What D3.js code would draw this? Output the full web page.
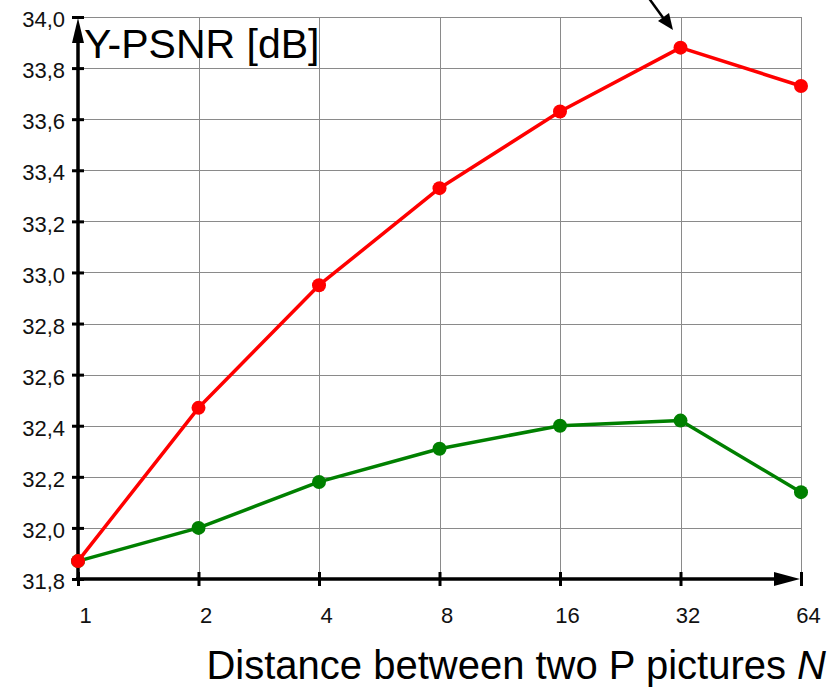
<!DOCTYPE html>
<html>
<head>
<meta charset="utf-8">
<script src="https://cdn.jsdelivr.net/npm/d3@7"></script>
<style>
  body { margin: 0; background: #fff; }
  svg { display: block; font-family: Arial, "Liberation Sans", sans-serif; }
</style>
</head>
<body>
<svg id="chart" width="836" height="687"></svg>
<script>
// values
const distances = [1, 2, 4, 8, 16, 32, 64];
const redSeries = [31.87, 32.47, 32.95, 33.33, 33.63, 33.88, 33.73];
const greenSeries = [31.87, 32.00, 32.18, 32.31, 32.40, 32.42, 32.14];
const yTicks = [31.8, 32.0, 32.2, 32.4, 32.6, 32.8, 33.0, 33.2, 33.4, 33.6, 33.8, 34.0];

const svg = d3.select("#chart");

const x = d3.scaleLog().base(2).domain([1, 64]).range([78, 801]);
const y = d3.scaleLinear().domain([31.8, 34.0]).range([579, 17]);

const fmt = d => d.toFixed(1).replace(".", ",");
const font = "Arial, 'Liberation Sans', sans-serif";

// grid
let grid = svg.append("g").attr("stroke", "#8a8a8a").attr("stroke-width", 1);
grid.selectAll("line.h")
  .data(yTicks.slice(1))
  .join("line")
    .attr("x1", x(1)).attr("x2", x(64))
    .attr("y1", d => Math.round(y(d)) + 0.5).attr("y2", d => Math.round(y(d)) + 0.5);
grid.selectAll("line.v")
  .data(distances.slice(1))
  .join("line")
    .attr("x1", d => Math.round(x(d)) + 0.5).attr("x2", d => Math.round(x(d)) + 0.5)
    .attr("y1", y(34.0)).attr("y2", y(31.8));

// y axis
let yAxis = svg.append("g")
  .attr("transform", `translate(${x(1)},0)`)
  .call(d3.axisLeft(y).tickValues(yTicks).tickFormat(fmt).tickSize(0).tickPadding(13));
yAxis.select(".domain").remove();
yAxis.selectAll("text").attr("font-size", 22).attr("fill", "#111").attr("dy", "0.44em")
  .attr("font-family", font);
yAxis.selectAll(".tick").append("line")
  .attr("x1", -6).attr("x2", 6).attr("stroke", "#000").attr("stroke-width", 3);

// x axis
let xAxis = svg.append("g")
  .attr("transform", `translate(0,${y(31.8)})`)
  .call(d3.axisBottom(x).tickValues(distances).tickFormat(d3.format("d")).tickSize(0).tickPadding(28));
xAxis.select(".domain").remove();
xAxis.selectAll("text").attr("font-size", 22).attr("fill", "#111").attr("dx", 7)
  .attr("font-family", font);
xAxis.selectAll(".tick").append("line")
  .attr("y1", -7).attr("y2", 7).attr("stroke", "#000").attr("stroke-width", 3);

// axis lines with arrows
svg.append("line")
  .attr("x1", x(1)).attr("x2", x(1)).attr("y1", y(31.8) + 2).attr("y2", y(34.0) + 20)
  .attr("stroke", "#000").attr("stroke-width", 3.5);
svg.append("path")
  .attr("d", `M${x(1)},${y(34.0) + 1} L${x(1) - 6},${y(34.0) + 26} L${x(1) + 6},${y(34.0) + 26} Z`)
  .attr("fill", "#000");
svg.append("line")
  .attr("x1", x(1) - 2).attr("x2", x(64) - 20).attr("y1", y(31.8)).attr("y2", y(31.8))
  .attr("stroke", "#000").attr("stroke-width", 3.5);
svg.append("path")
  .attr("d", `M${x(64) - 1},${y(31.8)} L${x(64) - 27},${y(31.8) - 7} L${x(64) - 27},${y(31.8) + 7} Z`)
  .attr("fill", "#000");

// series
const line = d3.line().x((d, i) => x(distances[i])).y(d => y(d));
let draw_series = function(values, color) {
  let g = svg.append("g");
  g.append("path")
    .attr("d", line(values))
    .attr("fill", "none")
    .attr("stroke", color)
    .attr("stroke-width", 3.5)
    .attr("stroke-linejoin", "round");
  g.selectAll("circle")
    .data(values)
    .join("circle")
      .attr("cx", (d, i) => x(distances[i]))
      .attr("cy", d => y(d))
      .attr("r", 7)
      .attr("fill", color);
};
draw_series(greenSeries, "#008000");
draw_series(redSeries, "#ff0000");

// annotation arrow pointing to the peak
svg.append("line")
  .attr("x1", 648).attr("y1", -3).attr("x2", 664).attr("y2", 19)
  .attr("stroke", "#000").attr("stroke-width", 2.5);
svg.append("path")
  .attr("d", "M673,30 L658,21 L669,13 Z")
  .attr("fill", "#000");

// titles
svg.append("text")
  .attr("x", 84).attr("y", 58)
  .attr("font-size", 41)
  .attr("fill", "#000")
  .attr("font-family", font)
  .text("Y-PSNR [dB]");

let xt = svg.append("text")
  .attr("x", 826).attr("y", 679)
  .attr("text-anchor", "end")
  .attr("font-size", 40)
  .attr("fill", "#000")
  .attr("font-family", font);
xt.append("tspan").text("Distance between two P pictures ");
xt.append("tspan").attr("font-style", "italic").text("N");
</script>
</body>
</html>
